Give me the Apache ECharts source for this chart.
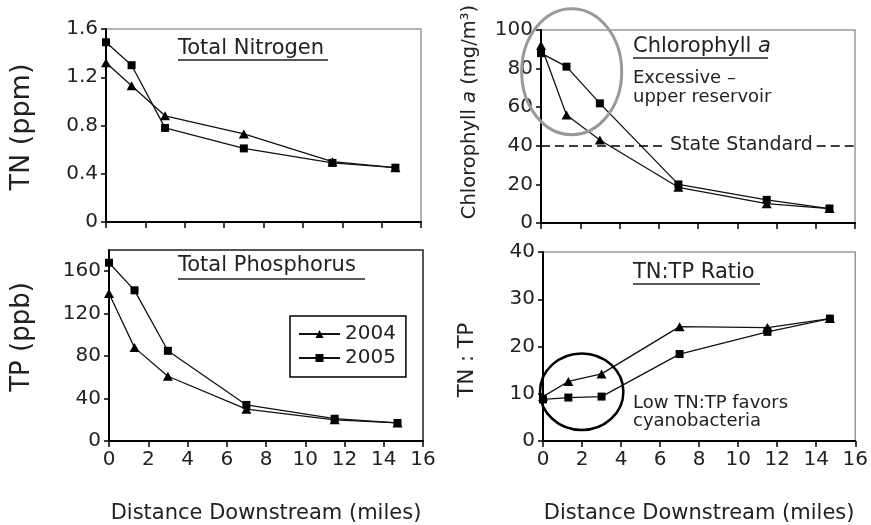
<!DOCTYPE html>
<html><head><meta charset="utf-8">
<script src="https://cdn.jsdelivr.net/npm/echarts@6/dist/echarts.min.js"></script>
<style>html,body{margin:0;padding:0;background:#fff}#c{width:871px;height:525px}</style>
</head><body><div id="c"></div>
<script>
// ---- data ----
const distance = [0, 1.3, 3.0, 7.0, 11.5, 14.7];
const tn2004 = [1.32, 1.13, 0.88, 0.73, 0.50, 0.45];
const tn2005 = [1.49, 1.30, 0.78, 0.61, 0.49, 0.45];
const tp2004 = [139, 88, 61, 30, 20, 17];
const tp2005 = [168, 142, 85, 34, 21, 17];
const chl2004 = [92, 56, 43, 18.5, 10, 7.5];
const chl2005 = [88, 81, 62, 20, 12, 7.5];
const ratio2004 = [9.4, 12.6, 14.2, 24.2, 24.0, 25.9];
const ratio2005 = [8.8, 9.2, 9.4, 18.4, 23.1, 25.9];
const years = ['2004', '2005'];
const stateStandard = 40;
const standardSegments = [[0, 6.3], [14.05, 16]];

const FONT = 'DejaVu Sans';
const pair = (xs, ys) => xs.map((x, i) => [x, ys[i]]);

const grids = [
  {left: 106, top: 29, width: 315, height: 193, borderColor: '#999'},
  {left: 541, top: 30, width: 314, height: 193, borderColor: '#999'},
  {left: 109, top: 250, width: 314, height: 194, borderColor: '#222'},
  {left: 543, top: 252, width: 315, height: 191, borderColor: '#999'}
].map(g => Object.assign({show: true, borderWidth: 1.5, backgroundColor: 'transparent'}, g));

function xAxis(i, labels) {
  return {
    type: 'value', gridIndex: i, min: 0, max: 16, interval: 2,
    axisLine: {show: true, lineStyle: {color: '#000', width: 2}},
    axisTick: {show: true, length: 6, lineStyle: {color: '#000', width: 1.5}},
    axisLabel: {show: labels, margin: 9, color: '#222', fontFamily: FONT, fontSize: 20},
    splitLine: {show: false},
    name: labels ? 'Distance Downstream (miles)' : '',
    nameLocation: 'middle', nameGap: 62,
    nameTextStyle: {color: '#222', fontFamily: FONT, fontSize: 21}
  };
}
function yAxis(i, max, interval, fmt, hideMax) {
  return {
    type: 'value', gridIndex: i, min: 0, max: max, interval: interval,
    axisLine: {show: true, lineStyle: {color: '#000', width: 2}},
    axisTick: {show: true, length: 5, lineStyle: {color: '#000', width: 1.5}},
    axisLabel: {margin: 8, color: '#222', fontFamily: FONT, fontSize: 20, formatter: fmt, showMaxLabel: !hideMax},
    splitLine: {show: false}
  };
}

function lineSeries(name, i, ys, extra) {
  const tri = name === '2004';
  return Object.assign({
    type: 'line', name: name, xAxisIndex: i, yAxisIndex: i,
    data: pair(distance, ys),
    symbol: tri ? 'triangle' : 'rect',
    symbolSize: tri ? [10, 9] : 8,
    showAllSymbol: true,
    lineStyle: {color: '#111', width: 1.3},
    itemStyle: {color: '#000'},
    z: tri ? 3 : 4,
    animation: false
  }, extra || {});
}

const std = {
  markLine: {
    silent: true, symbol: 'none', animation: false,
    label: {show: false},
    lineStyle: {color: '#000', type: [9, 5], width: 1.5},
    data: standardSegments.map(s => [{coord: [s[0], stateStandard]}, {coord: [s[1], stateStandard]}])
  }
};

const txt = (t, x, y, size, extra) => ({
  type: 'text', x: x, y: y, z: 50,
  style: Object.assign({text: t, fontFamily: FONT, fontSize: size, fill: '#222', align: 'left', verticalAlign: 'middle'}, extra || {})
});
const uline = (x1, x2, y) => ({type: 'line', z: 50, shape: {x1: x1, y1: y, x2: x2, y2: y}, style: {stroke: '#222', lineWidth: 1.5}});
const vtxt = (t, x, y, size, rich) => ({
  type: 'text', x: x, y: y, rotation: Math.PI / 2, z: 50,
  style: {text: t, fontFamily: FONT, fontSize: size, fill: '#222', align: 'center', verticalAlign: 'middle', rich: rich || {}}
});

const chart = echarts.init(document.getElementById('c'), null, {renderer: 'canvas'});
chart.setOption({
  animation: false,
  backgroundColor: '#fff',
  grid: grids,
  xAxis: [xAxis(0, false), xAxis(1, false), xAxis(2, true), xAxis(3, true)],
  yAxis: [
    yAxis(0, 1.6, 0.4, v => v === 0 ? '0' : v.toFixed(1)),
    yAxis(1, 100, 20),
    yAxis(2, 180, 40, null, true),
    yAxis(3, 40, 10)
  ],
  legend: {
    data: years, orient: 'vertical', left: 290, top: 316,
    borderColor: '#000', borderWidth: 1.5, padding: [8, 10, 9, 8],
    itemWidth: 41, itemHeight: 10, itemGap: 4,
    textStyle: {color: '#222', fontFamily: FONT, fontSize: 20},
    selectedMode: false
  },
  series: [
    lineSeries('2004', 0, tn2004), lineSeries('2005', 0, tn2005),
    lineSeries('2004', 1, chl2004, std), lineSeries('2005', 1, chl2005),
    lineSeries('2004', 2, tp2004), lineSeries('2005', 2, tp2005),
    lineSeries('2004', 3, ratio2004), lineSeries('2005', 3, ratio2005)
  ],
  graphic: [
    {type: 'ellipse', z: 40, shape: {cx: 571.7, cy: 71.7, rx: 50, ry: 63}, style: {fill: 'none', stroke: '#999', lineWidth: 3}},
    {type: 'ellipse', z: 40, shape: {cx: 581.7, cy: 391.7, rx: 41.7, ry: 38.3}, style: {fill: 'none', stroke: '#000', lineWidth: 2.5}},
    txt('Total Nitrogen', 178, 49, 21), uline(178, 328, 60),
    txt('Total Phosphorus', 178, 266, 21), uline(178, 365, 279),
    txt('Chlorophyll {i|a}', 633, 47, 21, {rich: {i: {fontStyle: 'italic', fontFamily: FONT, fontSize: 21, fill: '#222'}}}), uline(633, 768, 58),
    txt('Excessive \u2013', 633, 78, 18),
    txt('upper reservoir', 633, 97, 18),
    txt('State Standard', 670, 145, 19, {align: 'left'}),
    txt('TN:TP Ratio', 633, 273, 21), uline(633, 760, 284),
    txt('Low TN:TP favors', 633, 403, 18),
    txt('cyanobacteria', 633, 421, 18),
    vtxt('TN (ppm)', 22, 127, 27),
    vtxt('TP (ppb)', 22, 337, 26),
    vtxt('Chlorophyll {i|a} (mg/m\u00b3)', 470, 112, 19.5, {i: {fontStyle: 'italic', fontFamily: FONT, fontSize: 19.5, fill: '#222'}}),
    vtxt('TN : TP', 468, 360, 21)
  ]
});
</script></body></html>
